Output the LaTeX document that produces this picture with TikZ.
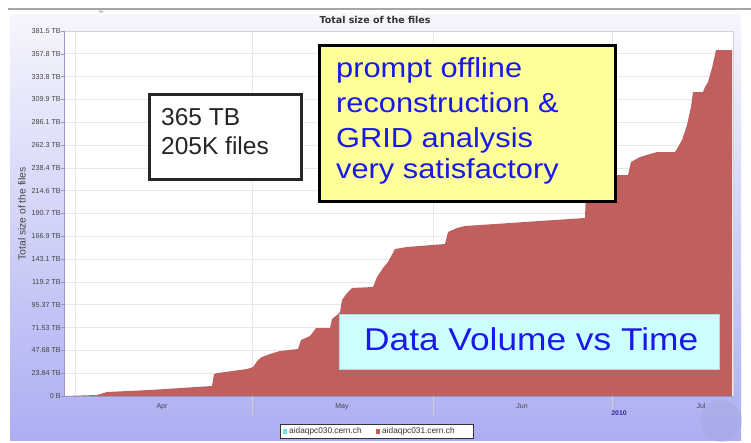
\documentclass[tikz,border=0pt]{standalone}
\usepackage{fontspec}
\setmainfont{Liberation Sans}
\newfontfamily\djv{DejaVu Sans}
\newfontfamily\widesans{Liberation Sans}[FakeStretch=1.12]
\definecolor{lavtop}{RGB}{246,246,253}
\definecolor{lavbot}{RGB}{172,174,242}
\definecolor{areared}{RGB}{192,96,94}
\definecolor{gridgray}{RGB}{232,232,236}
\definecolor{axisblue}{RGB}{150,150,200}
\definecolor{msgyellow}{RGB}{255,255,153}
\definecolor{msgblue}{RGB}{25,25,235}
\definecolor{boxcyan}{RGB}{204,255,255}
\definecolor{legcyan}{RGB}{110,230,230}
\definecolor{labgray}{RGB}{70,70,70}
\usetikzlibrary{positioning}
\tikzset{
  gridline/.style={draw=gridgray, line width=0.7},
  ylab/.style={anchor=east, inner sep=0, font=\fontsize{7.2}{8}\selectfont, text=labgray},
  xlab/.style={anchor=base, inner sep=0, font=\fontsize{7}{8}\selectfont, text=labgray},
  msgline/.style={anchor=base west, inner sep=0, text=msgblue, font=\widesans\fontsize{27.5}{30}\selectfont},
  infoline/.style={anchor=base west, inner sep=0, text=black!85, font=\fontsize{24.5}{28}\selectfont},
  legtext/.style={anchor=west, inner sep=0, text=black!80, font=\fontsize{8.3}{9}\selectfont},
}
\begin{document}
\begin{tikzpicture}[x=1pt,y=-1pt]
\useasboundingbox (0,0) rectangle (751,442);
\fill[white] (0,0) rectangle (751,442);
% outer chart background
\shade[top color=lavtop, bottom color=lavbot] (10,14) rectangle (741,440);
\draw[gray!70, line width=1.2] (8,9) -- (751,9);
\fill[gray!45] (101,11.5) ellipse (2.5 and 1.2);
% watermark circle
\fill[lavbot!80!gray, opacity=0.35] (721,421) circle (21);
% plot area
\fill[white] (64,31) rectangle (733,396);
\foreach \i in {0,...,16} {
  \draw[gridline] (64,{31+\i*22.8125}) -- (733,{31+\i*22.8125});
}
\foreach \xx in {75,252,433,612} {
  \draw[gridline] (\xx,31) -- (\xx,396);
}
\draw[gridgray!80!gray, line width=0.6] (64,31) rectangle (733,396);
% data area
\fill[areared] (65,396) -- (97,395) -- (107,392) -- (150,390) -- (212,386) -- (214,374) -- (218,373)
  -- (247,369) -- (253,367) -- (258,360) -- (262,357) -- (270,354) -- (280,351) -- (298,349)
  -- (301,340) -- (310,336) -- (313,332) -- (316,328) -- (330,328) -- (332,319) -- (337,315)
  -- (340,312) -- (342,300) -- (347,293) -- (352,288) -- (373,287) -- (377,277) -- (383,268)
  -- (388,262) -- (395,249) -- (407,247) -- (445,244) -- (448,232) -- (457,228) -- (465,226)
  -- (585,218) -- (586,190) -- (600,185) -- (612,178) -- (614,175) -- (628,175) -- (631,162)
  -- (640,157) -- (657,152) -- (675,152) -- (678,147) -- (682,140) -- (687,125) -- (691,107)
  -- (693,92) -- (703,92) -- (705,87) -- (708,82) -- (712,68) -- (716,50) -- (732,50)
  -- (732,396) -- cycle;
% axes
\draw[axisblue, line width=0.8] (64,31) -- (64,396) -- (733,396);
\foreach \i in {0,...,16} {
  \draw[axisblue, line width=0.6] (61,{31+\i*22.8125}) -- (64,{31+\i*22.8125});
}
\foreach \xx in {252,433,612} {
  \draw[gray!40, line width=0.6] (\xx,396) -- (\xx,416);
}
% y labels
\foreach \v [count=\i from 0] in {381.5 TB,357.8 TB,333.8 TB,309.9 TB,286.1 TB,262.3 TB,238.4 TB,214.6 TB,190.7 TB,166.9 TB,143.1 TB,119.2 TB,95.37 TB,71.53 TB,47.68 TB,23.84 TB,0 B} {
  \node[ylab] (ytick\i) at (61,{31+\i*22.8125}) {\v};
}
\node[rotate=90, inner sep=0, font=\fontsize{10.3}{11}\selectfont, text=labgray] (ytitle) at (22,214) {Total size of the files};
\node[inner sep=0, font=\djv\bfseries\fontsize{9.5}{11}\selectfont, text=black!80] (title) at (375,20) {Total size of the files};
% x labels
\node[xlab] (apr) at (162,408) {Apr};
\node[xlab] (may) at (342,408) {May};
\node[xlab] (jun) at (522,408) {Jun};
\node[xlab] (jul) at (701,408) {Jul};
\node[xlab, font=\bfseries\fontsize{6.8}{8}\selectfont, text={rgb,255:red,40;green,40;blue,160}] (year) at (619,415) {2010};
% legend
\node[draw=black!80, fill=white, line width=0.5, minimum width=193, minimum height=14, inner sep=0, anchor=north west] (legend) at (280,424) {};
\fill[legcyan] (283,428.5) rectangle (287,433.5);
\node[legtext] (leg1) at (289,431) {aidaqpc030.cern.ch};
\fill[areared] (376,428.5) rectangle (380,433.5);
\node[legtext] (leg2) at (382,431) {aidaqpc031.cern.ch};
% info box
\node[draw=black!85, line width=2.8, fill=white, minimum width=152, minimum height=85, inner sep=0, anchor=north west] (info) at (148,93) {};
\node[infoline] (info1) at (161,125) {365 TB};
\node[infoline] (info2) at (161,154) {205K files};
% message box
\fill[black!55] (321,47) rectangle (617,203);
\node[draw=black, line width=2.6, fill=msgyellow, minimum width=296, minimum height=156, inner sep=0, anchor=north west] (msg) at (318,44) {};
\node[msgline] (msg1) at (336,77) {prompt offline};
\node[msgline] (msg2) at (336,112) {reconstruction \&};
\node[msgline] (msg3) at (336,147) {GRID analysis};
\node[msgline] (msg4) at (336,178) {very satisfactory};
% data volume box
\node[draw={rgb,255:red,170;green,220;blue,220}, line width=0.6, fill=boxcyan, minimum width=380, minimum height=55, inner sep=0, anchor=north west] (dvbox) at (339,314) {};
\node[inner sep=0, anchor=base west, text=msgblue, font=\widesans\fontsize{31.5}{34}\selectfont] (dvtext) at (364,350) {Data Volume vs Time};
\end{tikzpicture}
\end{document}
